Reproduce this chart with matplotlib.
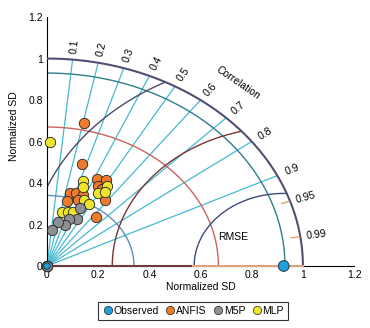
import numpy as np
import matplotlib.pyplot as plt
from matplotlib.lines import Line2D

plt.rcParams['font.family'] = ['Liberation Sans', 'DejaVu Sans']

# points in the Taylor plane (SD*corr, SD*sin), normalized SD
anfis_x = [0.146, 0.135, 0.196, 0.229, 0.198, 0.215, 0.227, 0.190, 0.088, 0.112, 0.142, 0.077, 0.122, 0.0]
anfis_y = [0.690, 0.490, 0.417, 0.413, 0.385, 0.370, 0.318, 0.235, 0.350, 0.350, 0.343, 0.315, 0.320, 0.0]
mlp_x = [0.010, 0.142, 0.142, 0.233, 0.200, 0.227, 0.145, 0.163, 0.057, 0.083, 0.103, 0.0]
mlp_y = [0.600, 0.410, 0.380, 0.386, 0.350, 0.356, 0.318, 0.298, 0.260, 0.258, 0.258, 0.0]
m5p_x = [0.129, 0.116, 0.085, 0.070, 0.044, 0.018, 0.0]
m5p_y = [0.280, 0.225, 0.225, 0.198, 0.214, 0.174, 0.0]
obs_x = [0.925, 0.0]
obs_y = [0.0, 0.0]

ref_sd = 0.93
sd_arcs = [0.34, 0.67]
rmse_arcs = [0.35, 0.67, 1.0]
corr_lines = [0.1, 0.2, 0.3, 0.4, 0.5, 0.6, 0.7, 0.8, 0.9]
corr_labels = [0.1, 0.2, 0.3, 0.4, 0.5, 0.6, 0.7, 0.8, 0.9, 0.95, 0.99]
ticks = [0, 0.2, 0.4, 0.6, 0.8, 1, 1.2]
tick_lbl = ['0', '0.2', '0.4', '0.6', '0.8', '1', '1.2']

fig = plt.figure(figsize=(3.7, 3.28), dpi=100)
ax = fig.add_axes([0.127, 0.189, 0.830, 0.759])
ax.set_xlim(0, 1.2)
ax.set_ylim(0, 1.2)
ax.spines['top'].set_visible(False)
ax.spines['right'].set_visible(False)
ax.set_xticks(ticks)
ax.set_xticklabels(tick_lbl)
ax.set_yticks(ticks)
ax.set_yticklabels(tick_lbl)
ax.tick_params(labelsize=7.5, length=0, pad=3)

t = np.linspace(0, np.pi / 2, 300)

# correlation rays
for c in corr_lines:
    a = np.arccos(c)
    ax.plot([0, np.cos(a)], [0, np.sin(a)], color='#45b9d1', lw=0.9, zorder=1)

# SD arcs
ax.plot(sd_arcs[0] * np.cos(t), sd_arcs[0] * np.sin(t), color='#5b8fc2', lw=1, zorder=2)
ax.plot(sd_arcs[1] * np.cos(t), sd_arcs[1] * np.sin(t), color='#c9655d', lw=1, zorder=2)
ax.plot(ref_sd * np.cos(t), ref_sd * np.sin(t), color='#2f7d8c', lw=1, zorder=2)

# RMSE arcs around observed, clipped at SD = 1
rm_cols = ['#3c4b7c', '#7a3434', '#4c4a6c']
tt = np.linspace(0, np.pi, 600)
for r, col in zip(rmse_arcs, rm_cols):
    xx = obs_x[0] + r * np.cos(tt)
    yy = r * np.sin(tt)
    keep = (xx ** 2 + yy ** 2 <= 1.0) & (xx >= 0)
    xx = np.where(keep, xx, np.nan)
    yy = np.where(keep, yy, np.nan)
    ax.plot(xx, yy, color=col, lw=1, zorder=2)

# outer arc
ax.plot(np.cos(t), np.sin(t), color='#524f72', lw=1.5, zorder=3)
ax.plot([0, 0.57], [0, 0], color='#6e3a3a', lw=1.5, zorder=3, clip_on=False)
ax.plot([0.57, 1.0], [0, 0], color='#dca37c', lw=1.5, zorder=3, clip_on=False)

# small ticks for 0.95 / 0.99
for c in [0.95, 0.99]:
    a = np.arccos(c)
    ax.plot([0.965 * np.cos(a), 0.995 * np.cos(a)], [0.965 * np.sin(a), 0.995 * np.sin(a)],
            color='#e8a070', lw=1, zorder=3)

for c in corr_labels:
    a = np.arccos(c)
    ax.text(1.065 * np.cos(a), 1.065 * np.sin(a), str(c), fontsize=7.5,
            rotation=np.degrees(a), rotation_mode='anchor', transform_rotates_text=True,
            ha='center', va='center')

a = np.radians(49.8)
ax.text(1.157 * np.cos(a), 1.157 * np.sin(a), 'Correlation', fontsize=7.5,
        rotation=np.degrees(a) - 90, rotation_mode='anchor', transform_rotates_text=True,
        ha='center', va='center')
ax.text(0.727, 0.14, 'RMSE', fontsize=7.5, ha='center', va='center')

ms = 56
ax.scatter(anfis_x, anfis_y, s=ms, c='#ee7b2c', edgecolors='#222222', linewidths=0.6, zorder=5, clip_on=False)
ax.scatter(mlp_x, mlp_y, s=ms, c='#eee42e', edgecolors='#222222', linewidths=0.6, zorder=6, clip_on=False)
ax.scatter(m5p_x, m5p_y, s=ms, c='#8d8f93', edgecolors='#222222', linewidths=0.6, zorder=7, clip_on=False)
ax.scatter(obs_x, obs_y, s=[60, 22], c='#1ba2dd', edgecolors='#222222', linewidths=0.6, zorder=8, clip_on=False)

ax.set_xlabel('Normalized SD', fontsize=7.5, labelpad=1)
ax.set_ylabel('Normalized SD', fontsize=7.5, labelpad=3)
ax.yaxis.set_label_coords(-0.09, 0.56)

handles = [Line2D([], [], ls='none', marker='o', ms=6, mfc=col, mec='#222222', mew=0.5)
           for col in ['#1ba2dd', '#ee7b2c', '#8d8f93', '#eee42e']]
leg = fig.legend(handles, ['Observed', 'ANFIS', 'M5P', 'MLP'], loc='center',
                 bbox_to_anchor=(0.522, 0.052), ncol=4, fontsize=7.5, frameon=True,
                 fancybox=False, edgecolor='black', handletextpad=0.05, columnspacing=0.55,
                 handlelength=1.05, borderpad=0.4, borderaxespad=0.2)
leg.get_frame().set_linewidth(0.8)

fig.savefig('out.png', dpi=100)
